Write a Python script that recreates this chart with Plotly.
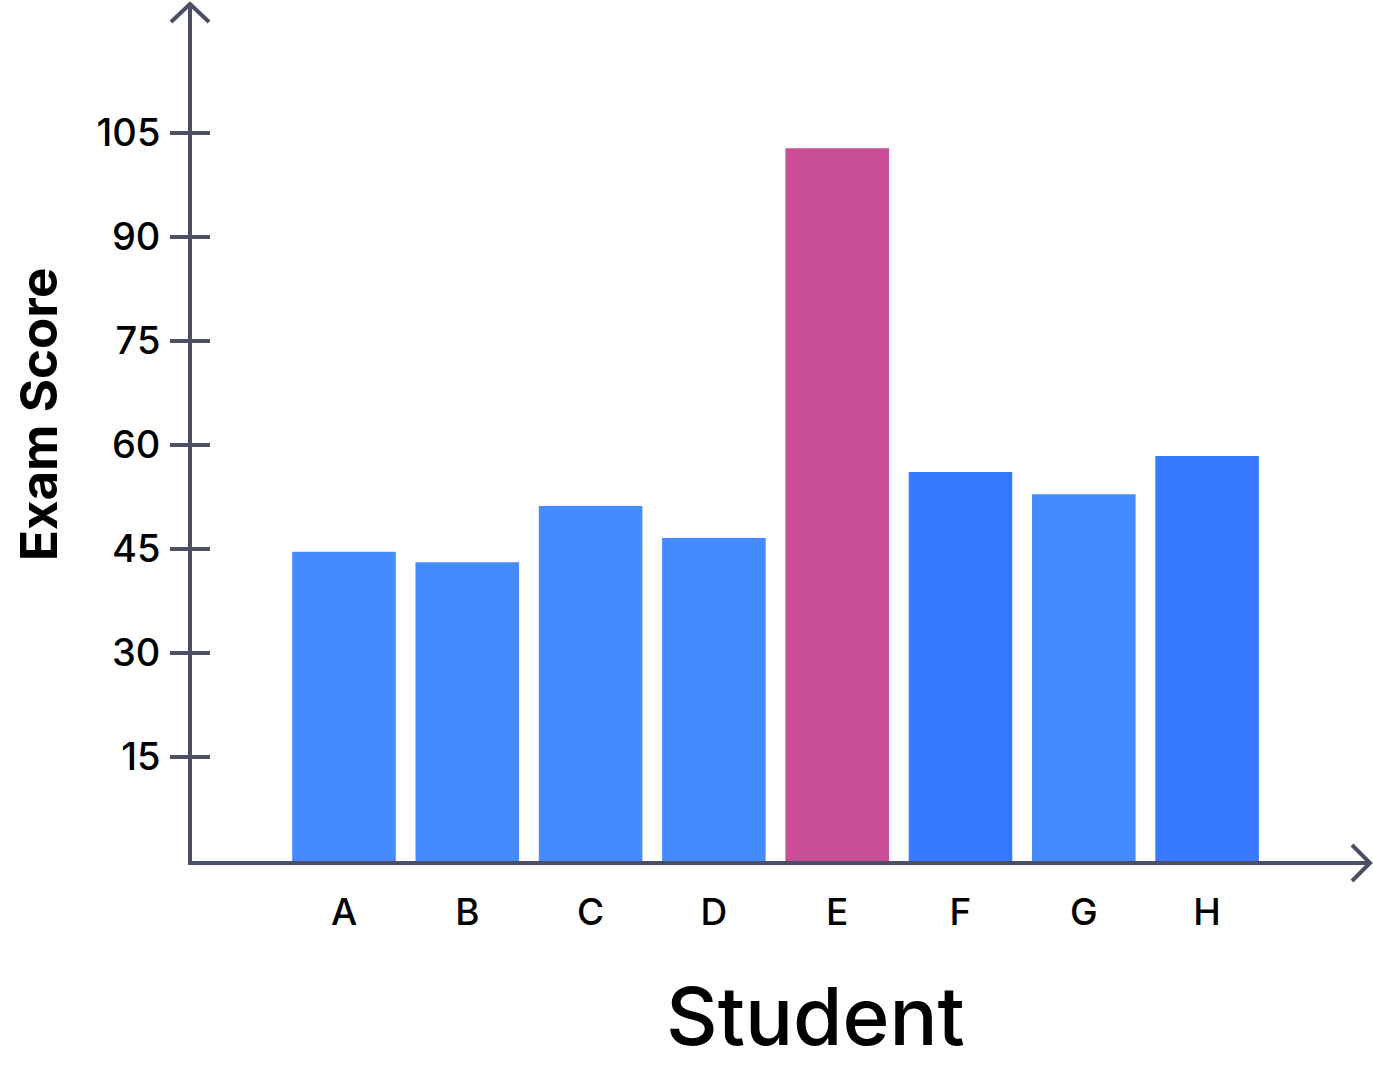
import plotly.graph_objects as go

students = ["A", "B", "C", "D", "E", "F", "G", "H"]
scores = [44.6, 43.1, 51.2, 46.6, 102.8, 56.1, 52.9, 58.4]
bar_colors = ["#468AFF", "#468AFF", "#468AFF", "#468AFF", "#C94E96", "#3779FF", "#468AFF", "#3779FF"]
y_ticks = [15, 30, 45, 60, 75, 90, 105]

AXIS = "#4A4F66"
FONT = "Inter, Poppins, Open Sans, sans-serif"

W, H = 1373, 1074
ML, MR, MT, MB = 192, 3, 3, 213
PW = W - ML - MR
PH = H - MT - MB

fig = go.Figure(go.Bar(
    x=students, y=scores, marker=dict(color=bar_colors, line=dict(width=0)),
    width=0.84, hoverinfo="x+y",
))

def px(xp):
    return (xp - ML) / PW

def py(yp):
    return (MT + PH - yp) / PH

shapes = []
# inner half of tick marks (outer half drawn by axis ticks)
for t in y_ticks:
    shapes.append(dict(type="line", xref="paper", yref="y", x0=px(190), x1=px(210), y0=t, y1=t,
                       line=dict(color=AXIS, width=4), layer="above"))

# arrow heads
shapes.append(dict(type="path", xref="paper", yref="paper",
                   path=f"M {px(171)} {py(22)} L {px(190)} {py(4)} L {px(209)} {py(22)}",
                   line=dict(color=AXIS, width=4), layer="above"))
shapes.append(dict(type="path", xref="paper", yref="paper",
                   path=f"M {px(1352)} {py(845)} L {px(1370)} {py(863)} L {px(1352)} {py(881)}",
                   line=dict(color=AXIS, width=4), layer="above"))

fig.update_layout(
    width=W, height=H,
    margin=dict(l=ML, r=MR, t=MT, b=MB, pad=0),
    paper_bgcolor="white", plot_bgcolor="white",
    showlegend=False,
    bargap=0.16,
    shapes=shapes,
    font=dict(family=FONT, color="#000000"),
    xaxis=dict(
        type="category", range=[(ML - 344) / 123.3, (W - MR - 344) / 123.3],
        showline=True, linecolor=AXIS, linewidth=4,
        showgrid=False, zeroline=False, ticks="",
        tickfont=dict(size=37, family=FONT, color="#000000", weight=500),
        ticklabelstandoff=16,
    ),
    yaxis=dict(
        range=[0, PH / 6.933],
        tickvals=y_ticks, ticktext=[str(t) for t in y_ticks],
        showline=True, linecolor=AXIS, linewidth=4,
        showgrid=False, zeroline=False,
        ticks="outside", ticklen=18, tickwidth=4, tickcolor=AXIS,
        tickfont=dict(size=38, family=FONT, color="#000000", weight=500),
        ticklabelstandoff=2,
    ),
    annotations=[
        dict(text="Student", xref="paper", yref="paper", x=px(815), y=py(1015),
             xanchor="center", yanchor="middle", showarrow=False,
             font=dict(size=80, family=FONT, color="#000000", weight=500)),
        dict(text="<b>Exam Score</b>", xref="paper", yref="paper", x=px(38), y=py(414),
             xanchor="center", yanchor="middle", showarrow=False, textangle=-90,
             font=dict(size=51, family=FONT, color="#000000")),
    ],
)

fig.write_html("out.html", config={"displayModeBar": False},
               post_script="document.body.style.margin='0';")
